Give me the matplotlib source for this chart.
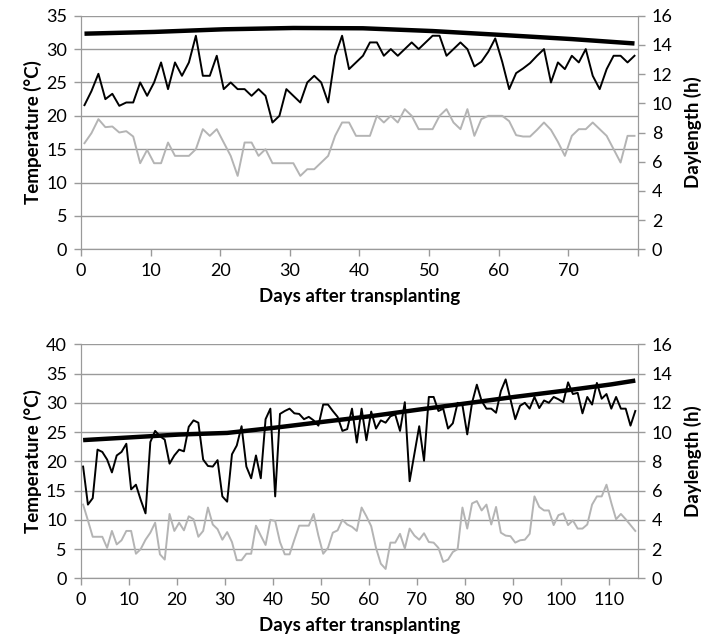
import numpy as np
import matplotlib.pyplot as plt

plt.rcParams['font.family'] = ['Lato', 'DejaVu Sans']

# top panel: 80 days of max / min temperature and daylength
tmax_top = [21.6, 23.7, 26.3, 22.5, 23.3, 21.5, 22.0, 22.0, 25.0, 23.0,
            25.0, 28.0, 24.0, 28.0, 26.0, 28.0, 32.0, 26.0, 26.0, 29.0,
            24.0, 25.0, 24.0, 24.0, 23.0, 24.0, 23.0, 19.0, 20.0, 24.0,
            23.0, 22.0, 25.0, 26.0, 25.0, 22.0, 29.0, 32.0, 27.0, 28.0,
            29.0, 31.0, 31.0, 29.0, 30.0, 29.0, 30.0, 31.0, 30.0, 31.0,
            32.0, 32.0, 29.0, 30.0, 31.0, 30.0, 27.4, 28.1, 29.6, 31.6,
            28.1, 24.0, 26.4, 27.1, 27.9, 29.0, 30.0, 25.0, 28.0, 27.0,
            29.0, 28.0, 30.0, 26.0, 24.0, 27.0, 29.0, 29.0, 28.0, 29.0]
tmin_top = [15.9, 17.4, 19.5, 18.3, 18.4, 17.5, 17.7, 16.9, 12.9, 14.9,
            12.9, 12.9, 16.0, 14.0, 14.0, 14.0, 15.0, 18.0, 17.0, 18.0,
            16.0, 14.0, 11.0, 16.0, 16.0, 14.0, 15.0, 12.9, 12.9, 12.9,
            12.9, 11.0, 12.0, 12.0, 13.0, 14.0, 17.0, 19.0, 19.0, 17.0,
            17.0, 17.0, 20.0, 19.0, 20.0, 19.0, 21.0, 20.0, 18.0, 18.0,
            18.0, 20.0, 21.0, 19.0, 18.0, 21.0, 17.0, 19.5, 20.0, 20.0,
            20.0, 19.2, 17.1, 16.9, 16.9, 17.9, 19.0, 17.9, 16.1, 14.0,
            17.0, 18.0, 18.0, 19.0, 18.0, 17.0, 15.0, 13.0, 17.0, 17.0]
dl_days_top = [0, 10, 20, 30, 40, 50, 60, 70, 79]
dl_top = [14.77, 14.89, 15.07, 15.16, 15.14, 14.95, 14.68, 14.40, 14.10]

# bottom panel: 116 days
tmax_bot = [19.1, 12.6, 13.7, 22.0, 21.6, 20.3, 18.1, 21.0, 21.6, 23.0,
            15.2, 16.0, 13.4, 11.1, 23.3, 25.2, 24.3, 23.7, 19.6, 21.0,
            22.0, 21.7, 25.9, 27.0, 26.6, 20.3, 19.2, 19.1, 20.2, 14.0,
            13.1, 21.2, 22.7, 26.0, 19.1, 17.1, 21.0, 17.1, 27.2, 29.0,
            14.0, 28.1, 28.6, 29.0, 28.2, 28.1, 27.2, 27.6, 27.0, 26.1,
            29.7, 29.7, 28.6, 27.6, 25.2, 25.5, 29.0, 23.2, 29.0, 23.6,
            28.5, 25.6, 27.0, 26.6, 27.7, 28.0, 25.2, 30.1, 16.6, 21.3,
            26.0, 20.1, 31.0, 31.0, 28.6, 29.0, 25.6, 26.5, 30.0, 29.6,
            24.6, 30.0, 33.1, 30.3, 29.0, 29.0, 28.3, 32.0, 34.0, 30.6,
            27.2, 29.5, 30.0, 29.0, 31.0, 29.1, 30.4, 30.0, 31.0, 30.6,
            30.1, 33.5, 31.5, 31.7, 28.2, 31.0, 29.7, 33.4, 30.7, 31.5,
            29.0, 31.0, 29.0, 29.0, 26.1, 28.6]
tmin_bot = [12.6, 9.9, 7.1, 7.1, 7.1, 5.2, 8.1, 5.8, 6.5, 8.1,
            8.1, 4.2, 5.0, 6.6, 7.8, 9.5, 4.1, 3.2, 11.0, 8.1,
            9.5, 8.2, 10.6, 10.1, 7.1, 8.1, 12.1, 9.2, 8.4, 6.6,
            7.9, 6.2, 3.1, 3.1, 4.2, 4.2, 9.0, 7.3, 5.7, 10.0,
            9.8, 6.2, 4.1, 4.1, 6.6, 9.0, 9.0, 9.0, 11.0, 7.3,
            4.2, 5.2, 7.8, 8.2, 10.0, 9.2, 8.8, 8.1, 12.1, 10.6,
            8.9, 5.2, 2.5, 1.6, 6.1, 6.1, 7.6, 5.1, 8.5, 7.3,
            6.6, 7.7, 6.2, 6.1, 5.2, 2.8, 3.2, 4.5, 5.0, 12.1,
            8.5, 12.8, 13.2, 11.6, 12.6, 9.2, 12.2, 7.8, 7.3, 7.2,
            6.1, 6.5, 6.6, 7.6, 14.0, 12.2, 11.6, 11.6, 9.1, 10.8,
            11.1, 9.1, 9.9, 8.5, 8.5, 9.2, 12.6, 14.0, 14.0, 16.0,
            12.9, 10.1, 11.0, 10.1, 9.1, 8.1]
dl_days_bot = [0, 10, 20, 30, 40, 50, 60, 70, 80, 90, 100, 110, 115]
dl_bot = [9.45, 9.64, 9.83, 9.94, 10.3, 10.7, 11.09, 11.54, 11.97, 12.41, 12.82, 13.26, 13.52]

grid_col = '#9a9a9a'
fs = 13
lab_fs = 13.5


def panel(rect, tmax, tmin, dl_days, dl, tlim, xmax, xticks):
    ax = fig.add_axes(rect)
    days = np.arange(len(tmax)) + 0.5   # each day plotted mid-category
    ax.plot(days, tmax, color='black', lw=1.4, zorder=3)
    ax.plot(days, tmin, color='#b4b4b4', lw=1.4, zorder=3)
    ax.set_xlim(0, xmax)
    ax.set_ylim(0, tlim)
    ax.set_yticks(np.arange(0, tlim + 1, 5))
    ax.set_xticks(xticks)
    ax.set_xticklabels([str(t) if t < xmax - 5 else '' for t in xticks])
    ax.grid(axis='y', color=grid_col, lw=1.0)
    ax.set_axisbelow(True)
    ax.set_ylabel('Temperature (°C)', fontsize=lab_fs, fontweight='bold', labelpad=3)
    ax.set_xlabel('Days after transplanting', fontsize=lab_fs, fontweight='bold', labelpad=6)

    ax2 = ax.twinx()
    ax2.plot(np.array(dl_days) + 0.5, dl, color='black', lw=3.2, solid_capstyle='butt', zorder=4)
    ax2.set_ylim(0, 16)
    ax2.set_yticks(np.arange(0, 17, 2))
    ax2.set_ylabel('Daylength (h)', fontsize=lab_fs, fontweight='bold', labelpad=8)

    for a in (ax, ax2):
        for s in a.spines.values():
            s.set_color(grid_col)
        a.spines['top'].set_visible(False)
        a.tick_params(length=5, width=1, color=grid_col, labelsize=fs, pad=5)
    return ax


fig = plt.figure(figsize=(7.08, 6.42), dpi=100)

panel([0.1144, 0.6117, 0.7867, 0.3638], tmax_top, tmin_top, dl_days_top, dl_top,
      35, 80, np.arange(0, 81, 10))
panel([0.114, 0.0992, 0.7867, 0.3645], tmax_bot, tmin_bot, dl_days_bot, dl_bot,
      40, 116, np.arange(0, 111, 10))

fig.savefig('out.png', dpi=100)
